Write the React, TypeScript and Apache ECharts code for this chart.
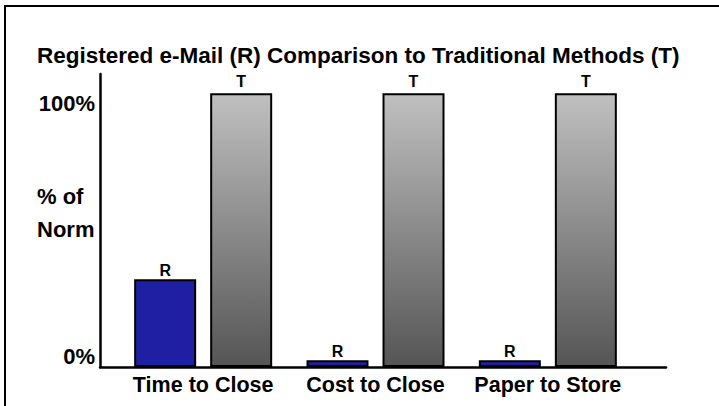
import React, { useEffect, useRef } from "react";
import * as echarts from "echarts";

const categories = ["Time to Close", "Cost to Close", "Paper to Store"];
const registeredValues = [32, 2.5, 2.5];
const traditionalValues = [100, 100, 100];
const yTickLabels: Record<number, string> = { 0: "0%", 100: "100%" };
const titleText = "Registered e-Mail (R) Comparison to Traditional Methods (T)";
const yName = "% of\nNorm";

const FONT = "'Liberation Sans', Arial, sans-serif";

export default function App() {
  const ref = useRef<HTMLDivElement>(null);
  useEffect(() => {
    if (!ref.current) return;
    const chart = echarts.init(ref.current, undefined, { renderer: "svg" });
    const yMax = 107;
    chart.setOption({
      animation: false,
      backgroundColor: "#ffffff",
      title: {
        text: titleText,
        left: 37,
        top: 44,
        padding: 0,
        textStyle: { fontFamily: FONT, fontSize: 22.5, fontWeight: "bold", color: "#000" },
      },
      graphic: [
        {
          type: "rect",
          shape: { x: 5, y: 6, width: 900, height: 600 },
          style: { fill: "none", stroke: "#000", lineWidth: 2 },
          z: 0,
        },
        {
          type: "text",
          x: 37,
          y: 180,
          style: {
            text: yName,
            font: `bold 22px ${FONT}`,
            fill: "#000",
            lineHeight: 33,
            align: "left",
            verticalAlign: "top",
          },
        },
      ],
      grid: [
        { left: 117, right: 85, top: 74, bottom: 39 },
        { left: 100, right: 53, top: 74, bottom: 39 },
      ],
      xAxis: [
        {
          type: "category",
          gridIndex: 0,
          data: categories,
          axisLine: { show: false },
          axisTick: { show: false },
          axisLabel: {
            interval: 0,
            margin: 7,
            fontFamily: FONT,
            fontSize: 21.5,
            fontWeight: "bold",
            color: "#000",
          },
        },
        {
          type: "value",
          gridIndex: 1,
          min: 0,
          max: 1,
          axisLine: { show: true, lineStyle: { color: "#000", width: 2.5 } },
          axisTick: { show: false },
          axisLabel: { show: false },
          splitLine: { show: false },
        },
      ],
      yAxis: [
        {
          type: "value",
          gridIndex: 0,
          min: 0,
          max: yMax,
          show: false,
        },
        {
          type: "value",
          gridIndex: 1,
          min: 0,
          max: yMax,
          interval: 100,
          axisLine: { show: true, lineStyle: { color: "#000", width: 2.5 } },
          axisTick: { show: false },
          splitLine: { show: false },
          axisLabel: {
            margin: 5,
            formatter: (v: number) =>
              v === 100 ? `{a|${yTickLabels[100]}}` : v === 0 ? `{b|${yTickLabels[0]}}` : "",
            rich: {
              a: {
                fontFamily: FONT,
                fontSize: 22,
                fontWeight: "bold",
                color: "#000",
                padding: [20, 0, 0, 0],
              },
              b: {
                fontFamily: FONT,
                fontSize: 22,
                fontWeight: "bold",
                color: "#000",
                padding: [0, 0, 22, 0],
              },
            },
          },
        },
      ],
      series: [
        {
          type: "bar",
          name: "R",
          xAxisIndex: 0,
          yAxisIndex: 0,
          data: registeredValues,
          barWidth: 62,
          barGap: "22.6%",
          itemStyle: { color: "#1f1fa3", borderColor: "#000", borderWidth: 2 },
          label: {
            show: true,
            position: "top",
            distance: 1,
            formatter: "R",
            fontFamily: FONT,
            fontSize: 16,
            fontWeight: "bold",
            color: "#000",
          },
        },
        {
          type: "bar",
          name: "T",
          xAxisIndex: 0,
          yAxisIndex: 0,
          data: traditionalValues,
          barWidth: 62,
          itemStyle: {
            color: new echarts.graphic.LinearGradient(0, 0, 0, 1, [
              { offset: 0, color: "#c0c0c0" },
              { offset: 1, color: "#555555" },
            ]),
            borderColor: "#000",
            borderWidth: 2,
          },
          label: {
            show: true,
            position: "top",
            distance: 4,
            formatter: "T",
            fontFamily: FONT,
            fontSize: 16,
            fontWeight: "bold",
            color: "#000",
          },
        },
      ],
    });
    return () => chart.dispose();
  }, []);
  return (
    <div
      ref={ref}
      style={{ position: "absolute", left: 0, top: 0, width: 719, height: 406 }}
    />
  );
}
